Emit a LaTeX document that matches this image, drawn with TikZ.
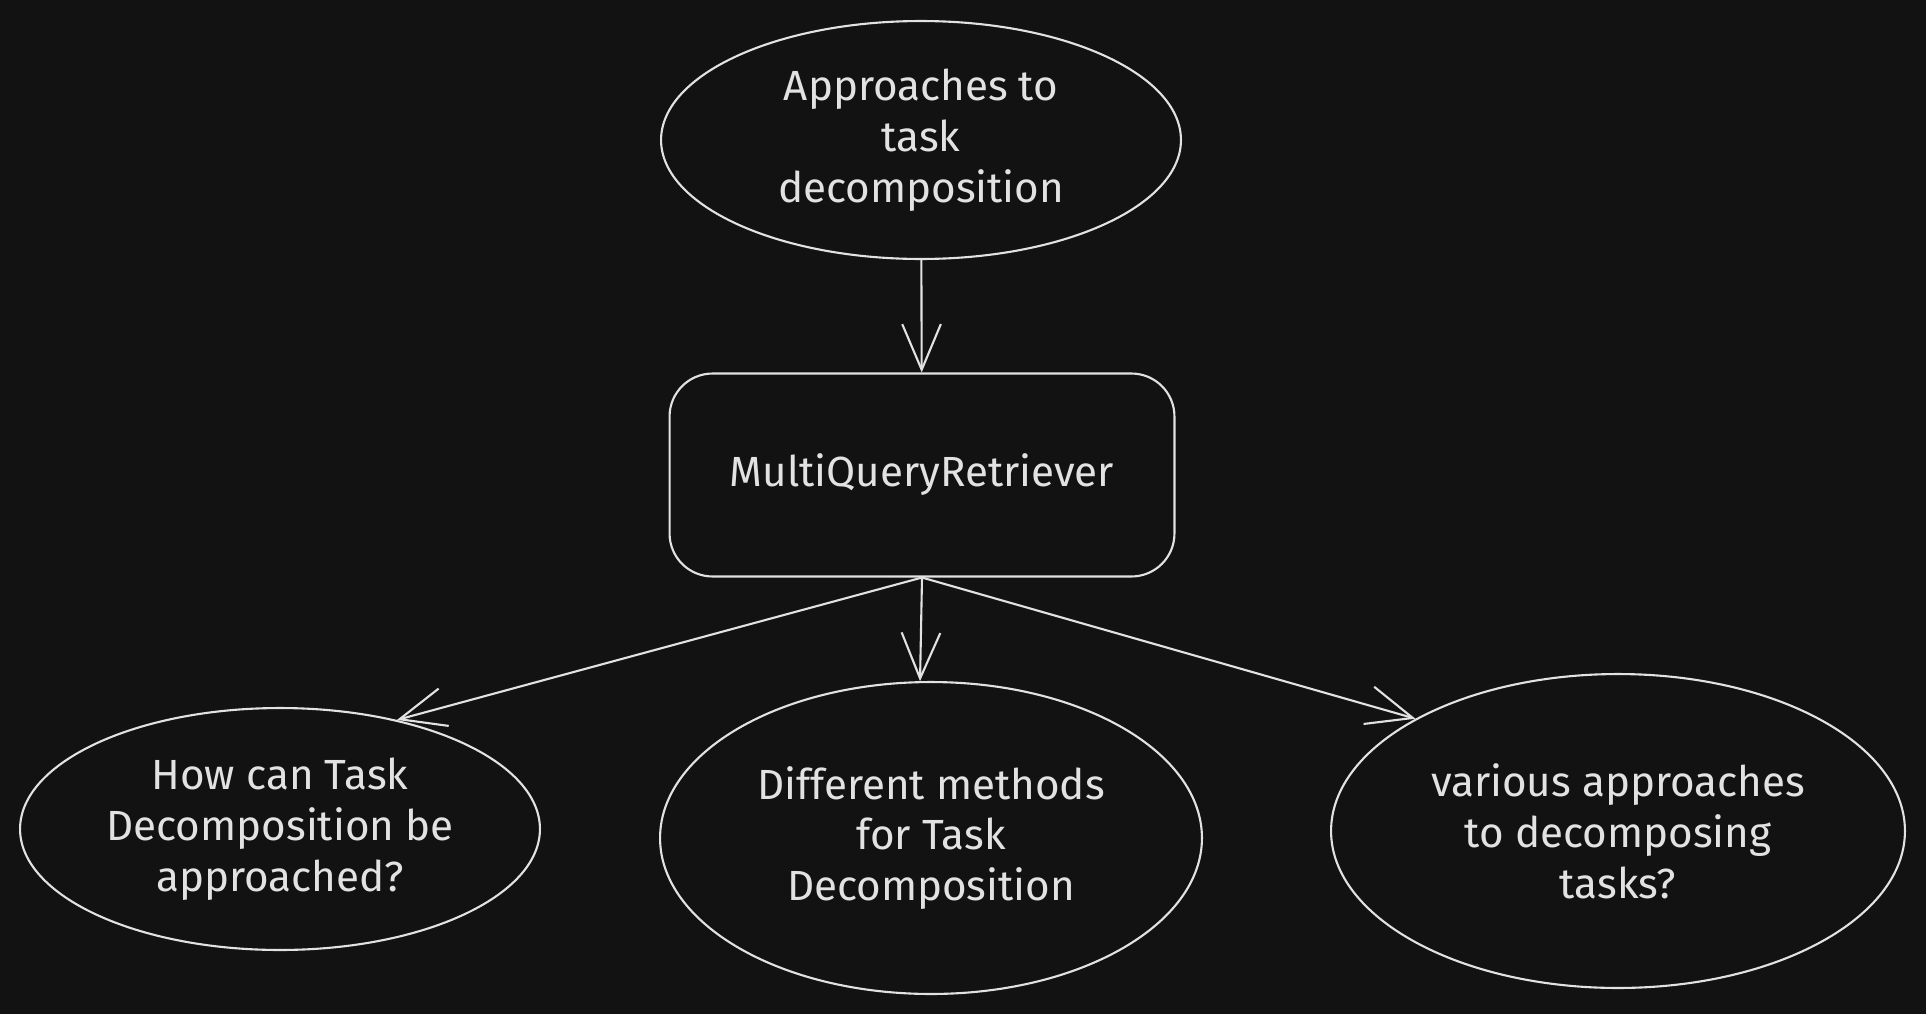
\documentclass[tikz,border=0pt]{standalone}
\usepackage{fontspec}
\setmainfont{Fira Sans}
\usetikzlibrary{shapes.geometric,arrows.meta}
\definecolor{bg}{HTML}{121212}
\definecolor{ink}{HTML}{E2E2E2}
\begin{document}
\begin{tikzpicture}[x=0.02cm,y=-0.02cm,
    every node/.style={text=ink,font=\fontsize{24}{29}\selectfont,align=center},
    bubble/.style={ellipse,draw=ink,line width=1.2pt,inner sep=0pt},
    box/.style={rectangle,draw=ink,line width=1.2pt,rounded corners=0.86cm,minimum width=10.1cm,minimum height=4.06cm},
    arr/.style={draw=ink,line width=1.2pt,-{Straight Barb[length=26pt,width=22pt]}}]
    \fill[bg] (0,0) rectangle (1926,1014);
    % top question and retriever
    \node[bubble,minimum width=10.4cm,minimum height=4.76cm] (topic) at (921,140) {Approaches to\\task\\decomposition};
    \node[box] (mqr) at (922,475) {MultiQueryRetriever};
    % generated queries
    \node[bubble,minimum width=10.4cm,minimum height=4.84cm] (qa) at (280,829) {How can Task\\Decomposition be\\approached?};
    \node[bubble,minimum width=10.84cm,minimum height=6.24cm] (qb) at (931,838) {Different methods\\for Task\\Decomposition};
    \node[bubble,minimum width=11.48cm,minimum height=6.28cm] (qc) at (1618,831) {various approaches\\to decomposing\\tasks?};
    \draw[arr] (topic) -- (mqr);
    \draw[arr] (mqr.south) -- (qa.43);
    \draw[arr] (mqr.south) -- (qb.94);
    \draw[arr] (mqr.south) -- (qc.151);
\end{tikzpicture}
\end{document}
